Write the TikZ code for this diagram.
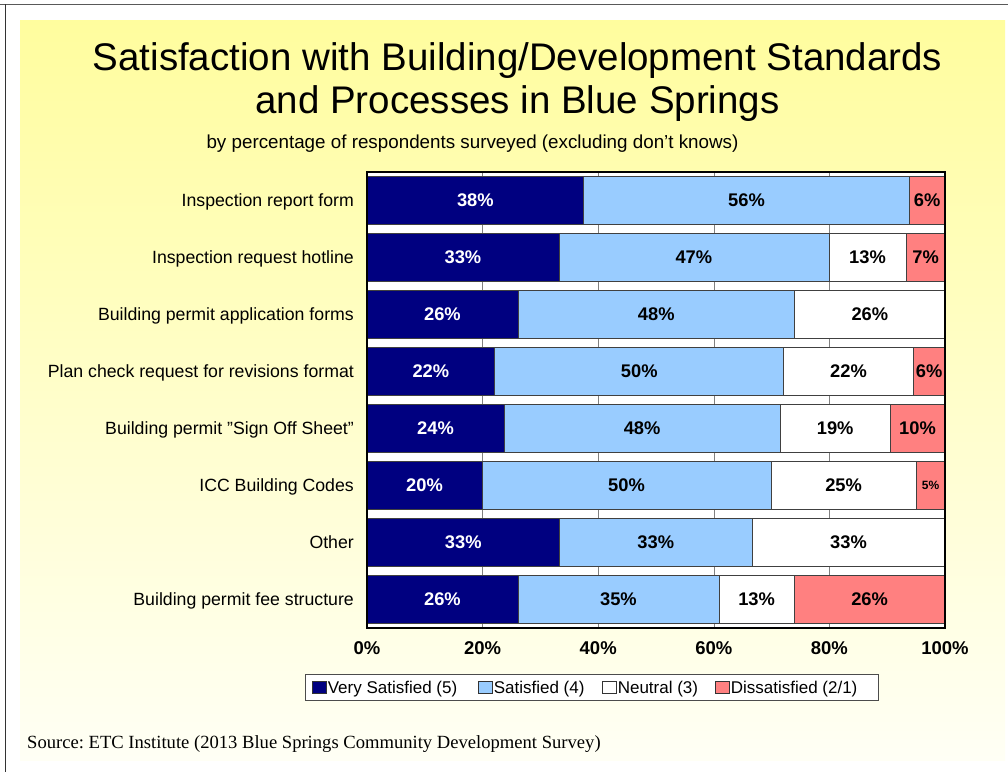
\documentclass[tikz,border=0pt]{standalone}
\usepackage{fontspec}
\setmainfont{Liberation Sans}
\newfontfamily\srcfont{Liberation Serif}
\frenchspacing
\definecolor{vsat}{RGB}{0,0,128}
\definecolor{sat}{RGB}{153,204,255}
\definecolor{dsat}{RGB}{255,128,128}
\definecolor{bgtop}{RGB}{255,253,158}
\definecolor{bgbot}{RGB}{255,255,245}
\tikzset{
  seg/.style={draw=black!75, line width=0.6pt},
  pct/.style={inner sep=0pt, font=\fontsize{18.3}{18}\selectfont\bfseries},
  rowlab/.style={inner sep=0pt, anchor=base east, font=\fontsize{17.7}{18}\selectfont},
  axlab/.style={inner sep=0pt, anchor=base, font=\fontsize{18.5}{19}\selectfont\bfseries},
  legsq/.style={draw=black!80, line width=0.6pt, minimum width=14pt, minimum height=12pt, inner sep=0pt, anchor=west},
  legtxt/.style={inner sep=0pt, anchor=base west, font=\fontsize{17}{17}\selectfont},
}
\newcommand\barrow[9]{%
  \pgfmathsetmacro\yT{176+57*#1}%
  \pgfmathsetmacro\yB{\yT+48.3}%
  \pgfmathsetmacro\yM{\yT+24.15}%
  \pgfmathsetmacro\xA{367+5.78*#2}%
  \pgfmathsetmacro\xB{367+5.78*#3}%
  \pgfmathsetmacro\xC{367+5.78*#4}%
  \path[seg,fill=vsat] (367,\yT) rectangle (\xA,\yB);
  \path[seg,fill=sat] (\xA,\yT) rectangle (\xB,\yB);
  \path[seg,fill=white] (\xB,\yT) rectangle (\xC,\yB);
  \path[seg,fill=dsat] (\xC,\yT) rectangle (945,\yB);
  \node[pct,text=white] (r#1a) at ({(367+\xA)/2},\yM) {#5};
  \node[pct] (r#1b) at ({(\xA+\xB)/2},\yM) {#6};
  \node[pct] (r#1c) at ({(\xB+\xC)/2},\yM) {#7};
  \node[pct] (r#1d) at ({(\xC+945)/2},\yM) {#8};
  \node[rowlab] (lab#1) at (354,\yM+6.4) {#9};
}
\begin{document}
\begin{tikzpicture}[x=1pt,y=-1pt]
\useasboundingbox (0,0) rectangle (1008,772);
\fill[white] (0,0) rectangle (1008,772);
\shade[top color=bgtop, bottom color=bgbot] (20,20) rectangle (1005,760);
\draw[black!65, line width=1.5pt] (0,4.5) -- (1008,4.5);
\draw[black!80, line width=1pt] (5.5,4) -- (5.5,772);
% title
\node[inner sep=0pt, anchor=base, font=\fontsize{38.5}{40}\selectfont] (t1) at (517.5,70) {Satisfaction with Building/Development Standards};
\node[inner sep=0pt, anchor=base, font=\fontsize{38.5}{40}\selectfont] (t2) at (517.5,113.3) {and Processes in Blue Springs};
\node[inner sep=0pt, anchor=base, font=\fontsize{18.8}{19}\selectfont] (sub) at (472.5,148.3) {by percentage of respondents surveyed (excluding don’t knows)};
% plot area
\fill[white] (367,172) rectangle (945,628);
\foreach \g in {20,40,60,80} \draw[black!50, line width=0.6pt] ({367+5.78*\g},172) -- ({367+5.78*\g},628);
\barrow{0}{37.5}{93.8}{93.8}{38\%}{56\%}{}{6\%}{Inspection report form}
\barrow{1}{33.2}{79.9}{93.3}{33\%}{47\%}{13\%}{7\%}{Inspection request hotline}
\barrow{2}{26.1}{74.0}{100}{26\%}{48\%}{26\%}{}{Building permit application forms}
\barrow{3}{22.1}{72.1}{94.5}{22\%}{50\%}{22\%}{6\%}{Plan check request for revisions format}
\barrow{4}{23.7}{71.5}{90.5}{24\%}{48\%}{19\%}{10\%}{Building permit "Sign Off Sheet"}
\barrow{5}{19.9}{69.9}{95.0}{20\%}{50\%}{25\%}{{\fontsize{12}{12}\selectfont 5\%}}{ICC Building Codes}
\barrow{6}{33.3}{66.6}{100}{33\%}{33\%}{33\%}{}{Other}
\barrow{7}{26.1}{60.9}{73.9}{26\%}{35\%}{13\%}{26\%}{Building permit fee structure}
\draw[black, line width=2pt] (367,172) rectangle (945,628);
% axis labels
\foreach \p in {0,20,40,60,80,100} \node[axlab] (ax\p) at ({367+5.78*\p},654.6) {\p\%};
% legend
\draw[black!70, fill=white, line width=0.8pt] (305,674) rectangle (878,700);
\node[legsq, fill=vsat] (lq1) at (312,687.5) {};
\node[legtxt] (lt1) at (lq1.east |- 0,693.6) {\hspace{1pt}Very Satisfied (5)};
\node[legsq, fill=sat] (lq2) at (478,687.5) {};
\node[legtxt] (lt2) at (lq2.east |- 0,693.6) {\hspace{1pt}Satisfied (4)};
\node[legsq, fill=white] (lq3) at (602,687.5) {};
\node[legtxt] (lt3) at (lq3.east |- 0,693.6) {\hspace{1pt}Neutral (3)};
\node[legsq, fill=dsat] (lq4) at (715,687.5) {};
\node[legtxt] (lt4) at (lq4.east |- 0,693.6) {\hspace{1pt}Dissatisfied (2/1)};
% source
\node[inner sep=0pt, anchor=base west, font=\srcfont\fontsize{18.6}{19}\selectfont] (src) at (27,748) {Source: ETC Institute (2013 Blue Springs Community Development Survey)};
\end{tikzpicture}
\end{document}
